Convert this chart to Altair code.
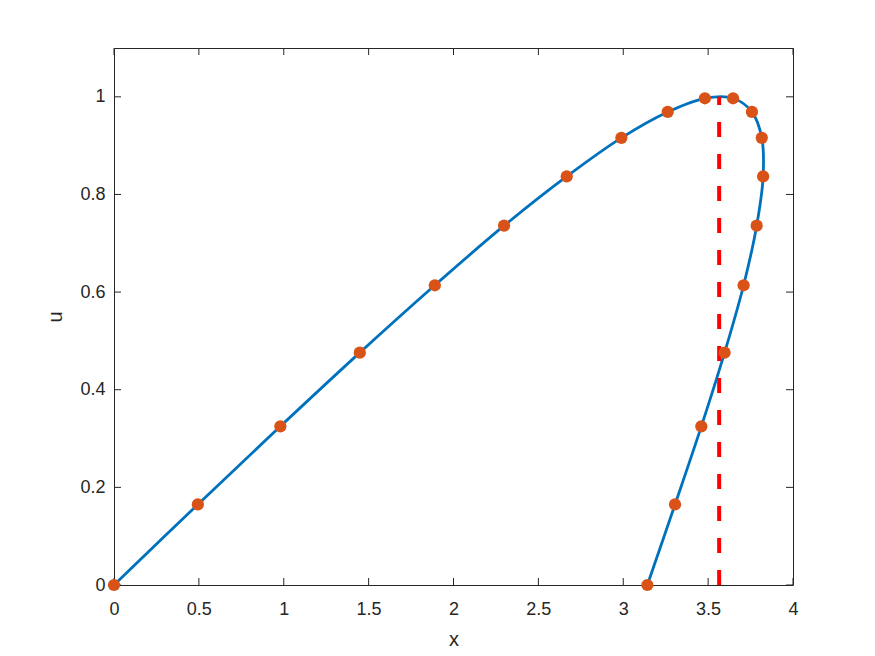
import altair as alt
import pandas as pd

# Orange sample points (x, u) along the curve, in drawing order
pt_x = [0.0, 0.494, 0.980, 1.448, 1.890, 2.298, 2.667, 2.989, 3.262, 3.481,
        3.647, 3.758, 3.816, 3.824, 3.786, 3.709, 3.597, 3.460, 3.305, 3.142]
pt_u = [0.0, 0.165, 0.325, 0.476, 0.614, 0.736, 0.837, 0.916, 0.969, 0.997,
        0.997, 0.969, 0.916, 0.837, 0.736, 0.614, 0.476, 0.325, 0.165, 0.0]

# Red dashed vertical line position and extent
shock_x = 3.565
shock_u0 = 0.0
shock_u1 = 1.0

x_ticks = [0, 0.5, 1, 1.5, 2, 2.5, 3, 3.5, 4]
y_ticks = [0, 0.2, 0.4, 0.6, 0.8, 1]

W, H = 679, 537
TXT = "#262626"
FONT = "Liberation Sans"

df = pd.DataFrame({"x": pt_x, "u": pt_u, "k": list(range(len(pt_x)))})
shock = pd.DataFrame({"x": [shock_x], "u0": [shock_u0], "u1": [shock_u1]})
xt = pd.DataFrame({"v": x_ticks})
yt = pd.DataFrame({"v": y_ticks})

xscale = alt.Scale(domain=[0, 4], nice=False, zero=False)
yscale = alt.Scale(domain=[0, 1.1], nice=False, zero=False)

xaxis = alt.Axis(values=x_ticks, format="~g", title="x", ticks=False, domain=False,
                 grid=False, labelPadding=15, titlePadding=11, labelFlush=False)
yaxis = alt.Axis(values=y_ticks, format="~g", title="u", ticks=False, domain=False,
                 grid=False, labelPadding=9, titlePadding=14, labelFlush=False)

line = alt.Chart(df).mark_line(interpolate="catmull-rom", color="#0072BD",
                               strokeWidth=2.8).encode(
    x=alt.X("x:Q", scale=xscale, axis=xaxis),
    y=alt.Y("u:Q", scale=yscale, axis=yaxis),
    order="k:Q",
)

rule = alt.Chart(shock).mark_rule(color="#FF0000", strokeWidth=4,
                                  strokeDash=[15, 17]).encode(
    x=alt.X("x:Q", scale=xscale),
    y=alt.Y("u0:Q", scale=yscale),
    y2="u1:Q",
)

dots = alt.Chart(df).mark_circle(size=150, color="#D95319", opacity=1).encode(
    x=alt.X("x:Q", scale=xscale),
    y=alt.Y("u:Q", scale=yscale),
)

tk = dict(color=TXT, strokeWidth=1)
xb = alt.Chart(xt).mark_rule(**tk).encode(
    x=alt.X("v:Q", scale=xscale), y=alt.value(H), y2=alt.value(H - 7))
xtp = alt.Chart(xt).mark_rule(**tk).encode(
    x=alt.X("v:Q", scale=xscale), y=alt.value(0), y2=alt.value(7))
yl = alt.Chart(yt).mark_rule(**tk).encode(
    y=alt.Y("v:Q", scale=yscale), x=alt.value(0), x2=alt.value(7))
yr = alt.Chart(yt).mark_rule(**tk).encode(
    y=alt.Y("v:Q", scale=yscale), x=alt.value(W), x2=alt.value(W - 7))

chart = alt.layer(xb, xtp, yl, yr, line, rule, dots).properties(
    width=W, height=H,
    background="white",
    autosize=alt.AutoSizeParams(type="none"),
    padding={"left": 106, "top": 40, "right": 70, "bottom": 70},
).configure_view(stroke=TXT, strokeWidth=1).configure_axis(
    labelFont=FONT, titleFont=FONT, labelFontSize=18, titleFontSize=20,
    labelColor=TXT, titleColor=TXT, titleFontWeight="normal",
)

chart.save("out.html", embed_options={"renderer": "svg", "actions": False})
